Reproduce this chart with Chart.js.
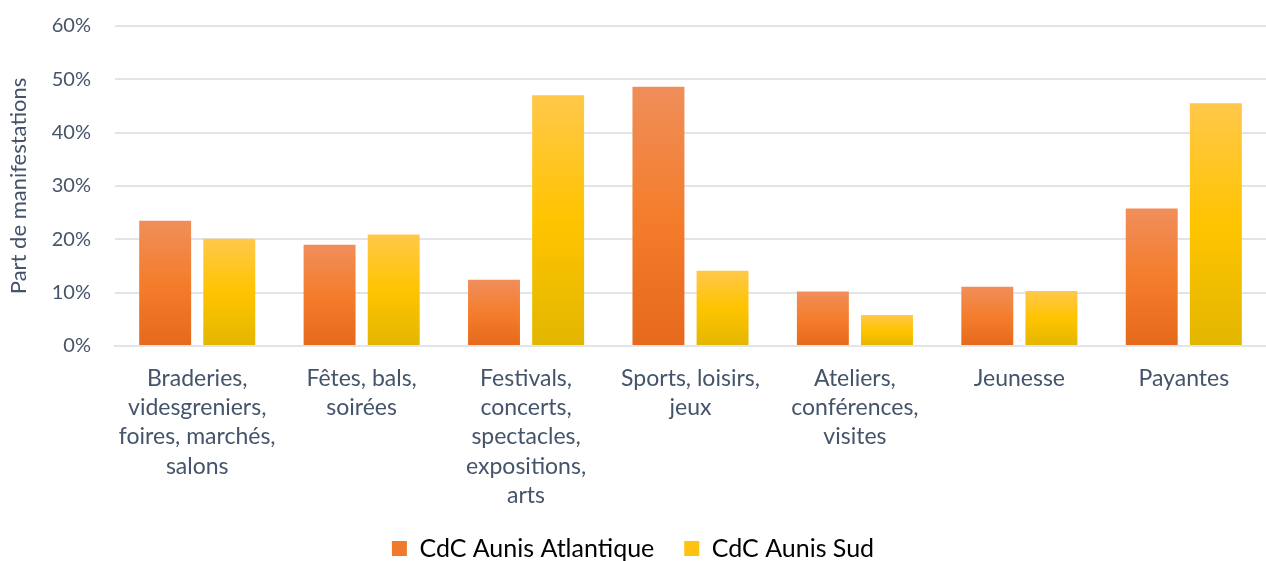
<!DOCTYPE html>
<html lang="fr">
<head>
<meta charset="utf-8">
<script src="https://cdn.jsdelivr.net/npm/chart.js"></script>
<style>
  html, body { margin: 0; padding: 0; background: #fff; }
  #wrap { width: 1266px; height: 561px; }
</style>
</head>
<body>
<div id="wrap"><canvas id="chart"></canvas></div>
<script>
const categories = [
  ['Braderies,', 'videsgreniers,', 'foires, marchés,', 'salons'],
  ['Fêtes, bals,', 'soirées'],
  ['Festivals,', 'concerts,', 'spectacles,', 'expositions,', 'arts'],
  ['Sports, loisirs,', 'jeux'],
  ['Ateliers,', 'conférences,', 'visites'],
  ['Jeunesse'],
  ['Payantes']
];
const aunisAtlantique = [23.5, 19.0, 12.4, 48.6, 10.2, 11.1, 25.8];
const aunisSud = [20.1, 20.9, 47.0, 14.1, 5.8, 10.3, 45.5];
const yTicks = [0, 10, 20, 30, 40, 50, 60];

const textColor = '#44546A';
const gridColor = '#E1E5EA';

// dégradé vertical pour chaque barre (clair en haut, foncé en bas)
function barGradient(stops, fallback) {
  return (ctx) => {
    const chart = ctx.chart;
    const y = chart.scales.y;
    if (!chart.chartArea || !y || ctx.parsed == null) return fallback;
    const top = y.getPixelForValue(ctx.parsed.y);
    const bottom = y.getPixelForValue(0);
    if (!isFinite(top) || !isFinite(bottom) || top === bottom) return fallback;
    const g = chart.ctx.createLinearGradient(0, top, 0, bottom);
    stops.forEach(([o, c]) => g.addColorStop(o, c));
    return g;
  };
}

const orangeStops = [[0, '#F08E5A'], [0.5, '#F47D2C'], [1, '#E6691C']];
const yellowStops = [[0, '#FFC84A'], [0.5, '#FFC400'], [1, '#E2B600']];

const ctx = document.getElementById('chart').getContext('2d');
new Chart(ctx, {
  type: 'bar',
  data: {
    labels: categories,
    datasets: [
      {
        label: 'CdC Aunis Atlantique',
        data: aunisAtlantique,
        backgroundColor: barGradient(orangeStops, '#F07D30'),
        categoryPercentage: 0.78,
        barPercentage: 0.81
      },
      {
        label: 'CdC Aunis Sud',
        data: aunisSud,
        backgroundColor: barGradient(yellowStops, '#FFC400'),
        categoryPercentage: 0.78,
        barPercentage: 0.81
      }
    ]
  },
  options: {
    responsive: true,
    maintainAspectRatio: false,
    animation: false,
    layout: { padding: { top: 26, right: 0, left: 0, bottom: -10 } },
    plugins: {
      tooltip: { enabled: false },
      legend: {
        position: 'bottom',
        labels: {
          color: '#000',
          font: { family: 'Lato', size: 25 },
          boxWidth: 15,
          boxHeight: 15,
          padding: 30,
          generateLabels: (chart) => [
            { text: 'CdC Aunis Atlantique', fillStyle: '#F07A2C', strokeStyle: '#F07A2C', lineWidth: 0, datasetIndex: 0, fontColor: '#000' },
            { text: 'CdC Aunis Sud', fillStyle: '#FFC20E', strokeStyle: '#FFC20E', lineWidth: 0, datasetIndex: 1, fontColor: '#000' }
          ]
        }
      }
    },
    scales: {
      x: {
        grid: { display: false, drawTicks: false },
        border: { display: true, color: gridColor, width: 2 },
        ticks: {
          color: textColor,
          font: { family: 'Lato', size: 23, lineHeight: 1.27 },
          padding: 18,
          autoSkip: false,
          maxRotation: 0
        },
        afterFit: (scale) => { scale.height = 160; }
      },
      y: {
        min: 0,
        max: 60,
        afterBuildTicks: (scale) => { scale.ticks = yTicks.map(v => ({ value: v })); },
        grid: { color: gridColor, lineWidth: 2, drawTicks: false },
        border: { display: false },
        ticks: {
          color: textColor,
          font: { family: 'Lato', size: 20 },
          padding: 24,
          callback: (v) => v + '%'
        },
        title: {
          display: true,
          text: 'Part de manifestations',
          color: textColor,
          font: { family: 'Lato', size: 22 },
          padding: { top: 6, bottom: 0 }
        },
        afterFit: (scale) => {
          scale.width = 115;
          scale.paddingTop = 0;
          scale.paddingBottom = 0;
        }
      }
    }
  }
});
</script>
</body>
</html>
